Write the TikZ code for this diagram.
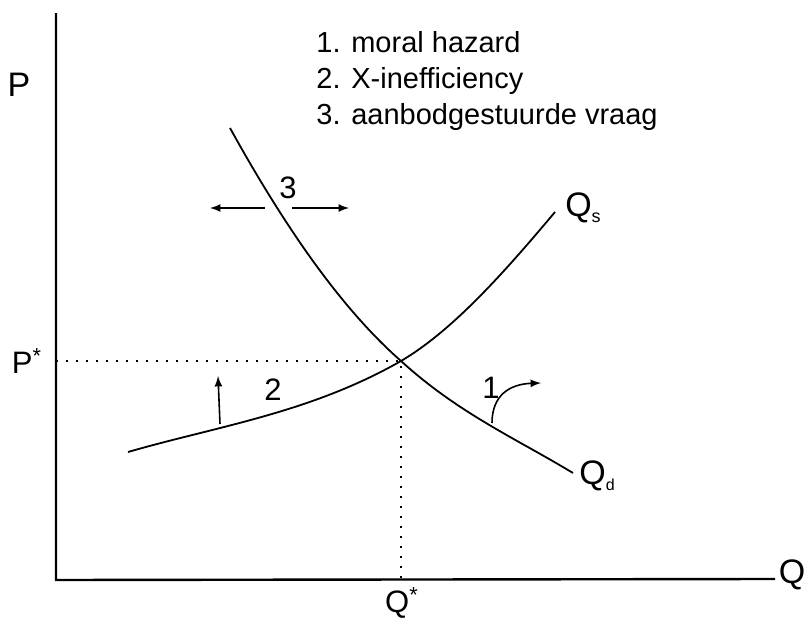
\documentclass[tikz,border=0pt]{standalone}
\usepackage{fontspec}
\setmainfont{Liberation Sans}

\begin{document}
\begin{tikzpicture}[x=0.5pt,y=-0.5pt,
  axis/.style={line width=1.2pt},
  curve/.style={line width=0.9pt},
  guide/.style={line width=1.1pt,dash pattern=on 1pt off 4pt},
  shiftarrow/.style={line width=0.8pt,-latex},
  axislabel/.style={inner sep=0pt,font=\fontsize{17}{20}\selectfont},
  numlabel/.style={inner sep=0pt,font=\fontsize{15.5}{18}\selectfont},
  legend/.style={inner sep=0pt,anchor=base west,font=\fontsize{14.5}{18}\selectfont}]
  \useasboundingbox (0,0) rectangle (805,621);
  % axes
  \coordinate (O) at (56,580);
  \coordinate (ytop) at (56,13);
  \coordinate (xend) at (775,579);
  \draw[axis] (ytop) -- (O) -- (xend);
  \node[axislabel] (P) at (19,85) {P};
  \node[axislabel] (Q) at (792,575) {Q};
  % equilibrium
  \coordinate (eq) at (401,361);
  \coordinate (peq) at (O|-eq);
  \coordinate (qeq) at (eq|-O);
  \draw[guide] (peq) -- (eq) -- (qeq);
  \node[numlabel] (Pstar) at (27,361) {P\textsuperscript{*}};
  \node[numlabel] (Qstar) at (402,603) {Q\textsuperscript{*}};
  % supply
  \coordinate (s0) at (128,452);
  \coordinate (s1) at (555,212);
  \draw[curve] (s0) .. controls (218,426) and (310,413) .. (eq)
    .. controls (452,331) and (503,274) .. (s1);
  \node[axislabel] (Qs) at (583,208) {Q\raisebox{-0.3ex}{\fontsize{9}{9}\selectfont s}};
  % demand
  \coordinate (d0) at (230,128);
  \coordinate (d1) at (573,473);
  \draw[curve] (d0) .. controls (287,231) and (343,310) .. (eq)
    .. controls (458,413) and (515,438) .. (d1);
  \node[axislabel] (Qd) at (597,476) {Q\raisebox{-0.3ex}{\fontsize{8}{8}\selectfont d}};
  % shifts
  \node[numlabel] (n3) at (288,188) {3};
  \coordinate (l3a) at (265,208);
  \coordinate (l3b) at (210,208);
  \coordinate (r3a) at (292,208);
  \coordinate (r3b) at (349,208);
  \draw[shiftarrow] (l3a) -- (l3b);
  \draw[shiftarrow] (r3a) -- (r3b);
  \node[numlabel] (n2) at (273,390) {2};
  \coordinate (u2a) at (220,424);
  \coordinate (u2b) at (218,376);
  \draw[shiftarrow] (u2a) -- (u2b);
  \node[numlabel] (n1) at (491,388) {1};
  \coordinate (c1a) at (492,423);
  \coordinate (c1b) at (541,383);
  \draw[shiftarrow] (c1a) .. controls (492,395) and (510,384) .. (c1b);
  % legend
  \node[legend] (leg1) at (316,53) {1. moral hazard};
  \node[legend] (leg2) at (316,89) {2. X-inefficiency};
  \node[legend] (leg3) at (316,125) {3. aanbodgestuurde vraag};
\end{tikzpicture}
\end{document}
